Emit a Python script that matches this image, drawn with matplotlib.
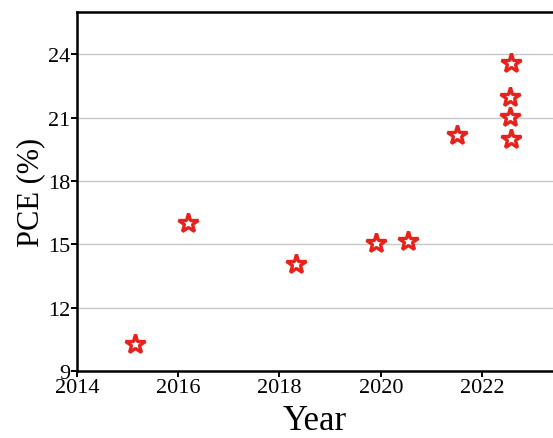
import matplotlib
matplotlib.use("Agg")
import matplotlib.pyplot as plt
import numpy as np

YEARS = [2015.14, 2016.19, 2018.32, 2019.91, 2020.54, 2021.5, 2022.57, 2022.56, 2022.55, 2022.58]
PCE = [10.28, 16.03, 14.06, 15.08, 15.16, 20.2, 23.6, 22.0, 21.04, 20.0]

XTICKS = [2014, 2016, 2018, 2020, 2022]
YTICKS = [9, 12, 15, 18, 21, 24]

plt.rcParams.update(
    {
        "font.family": "serif",
        "font.serif": ["Liberation Serif", "Times New Roman", "DejaVu Serif"],
        "font.size": 16,
        "axes.linewidth": 1.8,
        "xtick.major.width": 1.4,
        "ytick.major.width": 1.4,
        "xtick.major.size": 4,
        "ytick.major.size": 4,
    }
)

fig = plt.figure(figsize=(5.53, 4.39), dpi=100)
ax = fig.add_axes([0.139, 0.1526, 0.861, 0.8174])

ax.plot(
    YEARS,
    PCE,
    linestyle="none",
    marker="*",
    markersize=15,
    markerfacecolor="white",
    markeredgecolor="#e8221b",
    markeredgewidth=2.4,
    zorder=3,
)

ax.set_xlim(2014, 2023.4)
ax.set_ylim(9, 26)
ax.set_xticks(XTICKS)
ax.set_yticks(YTICKS)
ax.tick_params(direction="out", labelsize=16, pad=1)
ax.yaxis.grid(True, color="#c8c8c8", linewidth=1.0)
ax.set_axisbelow(True)
ax.spines["right"].set_visible(False)

ax.set_xlabel("Year", fontsize=25, labelpad=5)
ax.set_ylabel("PCE (%)", fontsize=22, labelpad=2)

fig.savefig("out.png", dpi=100)
